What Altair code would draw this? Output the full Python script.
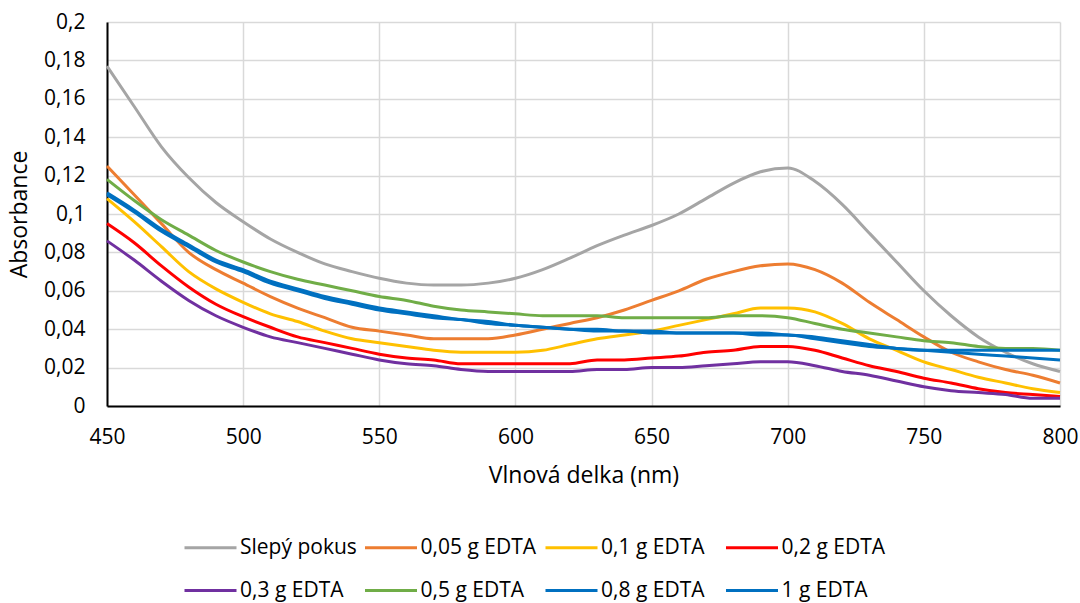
import altair as alt
import pandas as pd

wavelength = [450, 460, 470, 480, 490, 500, 510, 520, 530, 540, 550, 560, 570, 580, 590,
              600, 610, 620, 630, 640, 650, 660, 670, 680, 690, 700, 710, 720, 730, 740,
              750, 760, 770, 780, 790, 800]

slepy = [0.177, 0.156, 0.135, 0.119, 0.106, 0.096, 0.087, 0.080, 0.074, 0.070, 0.0665, 0.064,
         0.063, 0.063, 0.064, 0.0665, 0.071, 0.077, 0.0835, 0.089, 0.094, 0.100, 0.108, 0.116,
         0.122, 0.124, 0.117, 0.105, 0.090, 0.075, 0.060, 0.047, 0.036, 0.028, 0.022, 0.018]
edta_005 = [0.125, 0.110, 0.095, 0.080, 0.071, 0.064, 0.057, 0.051, 0.046, 0.041, 0.039, 0.037,
            0.035, 0.035, 0.035, 0.037, 0.040, 0.043, 0.046, 0.050, 0.055, 0.060, 0.066, 0.070,
            0.073, 0.074, 0.071, 0.064, 0.054, 0.045, 0.036, 0.028, 0.023, 0.019, 0.016, 0.012]
edta_01 = [0.108, 0.096, 0.083, 0.070, 0.061, 0.054, 0.048, 0.044, 0.039, 0.035, 0.033, 0.031,
           0.029, 0.028, 0.028, 0.028, 0.029, 0.032, 0.035, 0.037, 0.039, 0.042, 0.045, 0.048,
           0.051, 0.051, 0.049, 0.043, 0.035, 0.029, 0.023, 0.019, 0.015, 0.012, 0.009, 0.007]
edta_02 = [0.095, 0.085, 0.073, 0.062, 0.053, 0.0465, 0.041, 0.036, 0.033, 0.030, 0.027, 0.025,
           0.024, 0.022, 0.022, 0.022, 0.022, 0.022, 0.024, 0.024, 0.025, 0.026, 0.028, 0.029,
           0.031, 0.031, 0.029, 0.025, 0.021, 0.018, 0.0145, 0.012, 0.009, 0.007, 0.006, 0.005]
edta_03 = [0.086, 0.076, 0.065, 0.055, 0.047, 0.041, 0.036, 0.033, 0.030, 0.027, 0.024, 0.022,
           0.021, 0.019, 0.018, 0.018, 0.018, 0.018, 0.019, 0.019, 0.020, 0.020, 0.021, 0.022,
           0.023, 0.023, 0.021, 0.018, 0.016, 0.013, 0.010, 0.008, 0.007, 0.006, 0.004, 0.004]
edta_05 = [0.118, 0.107, 0.097, 0.089, 0.081, 0.075, 0.070, 0.066, 0.063, 0.060, 0.057, 0.055,
           0.052, 0.050, 0.049, 0.048, 0.047, 0.047, 0.047, 0.046, 0.046, 0.046, 0.046, 0.047,
           0.047, 0.046, 0.043, 0.040, 0.038, 0.036, 0.034, 0.033, 0.031, 0.030, 0.030, 0.029]
edta_08 = [0.111, 0.102, 0.092, 0.084, 0.076, 0.071, 0.065, 0.061, 0.057, 0.054, 0.051, 0.049,
           0.047, 0.045, 0.044, 0.042, 0.041, 0.040, 0.040, 0.039, 0.039, 0.038, 0.038, 0.038,
           0.038, 0.037, 0.036, 0.034, 0.032, 0.030, 0.029, 0.029, 0.029, 0.029, 0.029, 0.029]
edta_1 = [0.110, 0.101, 0.091, 0.083, 0.075, 0.070, 0.064, 0.060, 0.056, 0.053, 0.050, 0.048,
          0.046, 0.045, 0.043, 0.042, 0.041, 0.040, 0.039, 0.039, 0.038, 0.038, 0.038, 0.038,
          0.037, 0.037, 0.035, 0.033, 0.031, 0.030, 0.029, 0.028, 0.027, 0.026, 0.025, 0.024]

series_names = ["Slepý pokus", "0,05 g EDTA", "0,1 g EDTA", "0,2 g EDTA",
                "0,3 g EDTA", "0,5 g EDTA", "0,8 g EDTA", "1 g EDTA"]
series_values = [slepy, edta_005, edta_01, edta_02, edta_03, edta_05, edta_08, edta_1]
series_colors = ["#A5A5A5", "#ED7D31", "#FFC000", "#FF0000",
                 "#7030A0", "#70AD47", "#0070C0", "#0070C0"]

x_ticks = [450, 500, 550, 600, 650, 700, 750, 800]
y_ticks = [0, 0.02, 0.04, 0.06, 0.08, 0.1, 0.12, 0.14, 0.16, 0.18, 0.2]

rows = []
for order, (name, vals) in enumerate(zip(series_names, series_values)):
    for w, v in zip(wavelength, vals):
        rows.append({"serie": name, "order": order, "nm": w, "abs": v})
df = pd.DataFrame(rows)

FONT = "Open Sans"
LABEL = "replace(format(datum.value, '~g'), '.', ',')"

chart = alt.Chart(df).mark_line(strokeWidth=3, interpolate="monotone").encode(
    x=alt.X("nm:Q", scale=alt.Scale(domain=[450, 800], nice=False),
            axis=alt.Axis(title="Vlnová delka (nm)", values=x_ticks, labelExpr=LABEL)),
    y=alt.Y("abs:Q", scale=alt.Scale(domain=[0, 0.2], nice=False),
            axis=alt.Axis(title="Absorbance", values=y_ticks, labelExpr=LABEL)),
    color=alt.Color("serie:N", sort=series_names,
                    scale=alt.Scale(domain=series_names, range=series_colors),
                    legend=alt.Legend(title=None, orient="none", legendX=76, legendY=498,
                                      columns=4, direction="horizontal")),
    detail="order:N",
    order="nm:Q",
).properties(
    width=953, height=384,
    autosize=alt.AutoSizeParams(type="none"),
    padding={"left": 107, "top": 22, "right": 20, "bottom": 197},
).configure_view(
    stroke=None
).configure_axis(
    labelFont=FONT, titleFont=FONT, labelFontSize=21, titleFontSize=23,
    labelColor="#000000", titleColor="#000000", titleFontWeight="normal",
    gridColor="#D9D9D9", gridWidth=1.5, ticks=False,
    domainColor="#000000", domainWidth=2,
    labelFlush=False, labelOverlap=False,
).configure_axisX(
    labelPadding=20, titlePadding=17,
).configure_axisY(
    labelPadding=22, titlePadding=12,
).configure_legend(
    labelFont=FONT, labelFontSize=21, labelColor="#000000",
    symbolType="stroke", symbolStrokeWidth=3, symbolSize=2704,
    labelOffset=2, columnPadding=1.5, rowPadding=5, gridAlign="all",
)

chart.save("out.html", embed_options={"renderer": "svg", "actions": False})
